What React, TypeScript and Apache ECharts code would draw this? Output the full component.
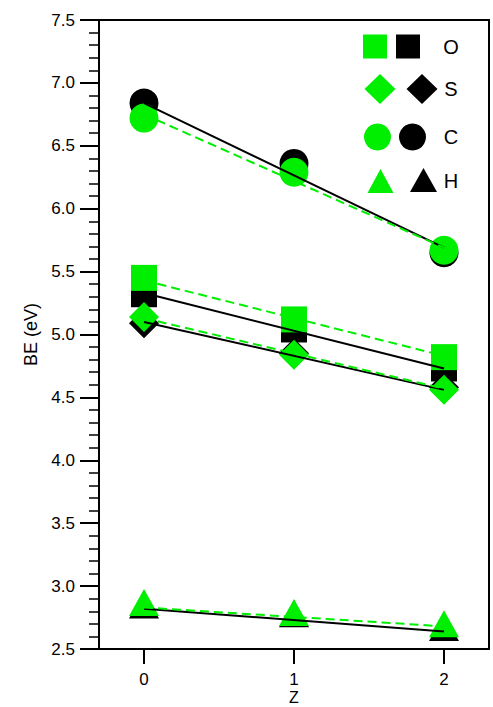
import React, { useEffect, useRef } from "react";
import * as echarts from "echarts";

const xValues = [0, 1, 2];
const xTicks = [0, 1, 2];

// Measured binding energies (eV)
const oGreen = [5.45, 5.12, 4.82];
const oBlack = [5.32, 5.04, 4.73];
const sGreen = [5.14, 4.84, 4.56];
const sBlack = [5.09, 4.85, 4.58];
const cGreen = [6.72, 6.29, 5.67];
const cBlack = [6.84, 6.36, 5.65];
const hGreen = [2.87, 2.79, 2.70];
const hBlack = [2.85, 2.78, 2.67];

// Fit lines: value at Z=0 and Z=2
const fitX = [0, 2];
const oGreenFit = [5.43, 4.83];
const oBlackFit = [5.33, 4.73];
const sGreenFit = [5.13, 4.57];
const sBlackFit = [5.10, 4.56];
const cGreenFit = [6.75, 5.69];
const cBlackFit = [6.84, 5.69];
const hGreenFit = [2.83, 2.68];
const hBlackFit = [2.82, 2.64];

const GREEN = "#00ee00";
const BLACK = "#000000";
const FONT = "Liberation Sans, Arial, sans-serif";

const pts = (ys: number[]) => xValues.map((x, i) => [x, ys[i]]);
const fitPts = (ys: number[]) => fitX.map((x, i) => [x, ys[i]]);

export default function App() {
  const ref = useRef<HTMLDivElement>(null);
  useEffect(() => {
    if (!ref.current) return;
    const chart = echarts.init(ref.current, undefined, { renderer: "svg" });

    const scatter = (name: string, data: number[], color: string, symbol: string, size: any, z: number) => ({
      name,
      type: "scatter",
      data: pts(data),
      symbol,
      symbolSize: size,
      itemStyle: { color, opacity: 1 },
      z,
      silent: true,
    });
    const fit = (name: string, data: number[], color: string, dashed: boolean, z: number) => ({
      name,
      type: "line",
      data: fitPts(data),
      symbol: "none",
      lineStyle: { color, width: 2, type: dashed ? [9, 5] : "solid" },
      z,
      silent: true,
    });

    const legendRows = [
      { label: "O", y: 46.5 },
      { label: "S", y: 89 },
      { label: "C", y: 137 },
      { label: "H", y: 181 },
    ];

    chart.setOption({
      animation: false,
      grid: {
        left: 99,
        right: 4,
        top: 20,
        bottom: 58,
        containLabel: false,
        outerBoundsMode: "none",
        show: true,
        borderColor: "#000",
        borderWidth: 2,
      },
      xAxis: {
        type: "value",
        min: -0.3,
        max: 2.3,
        name: "Z",
        nameLocation: "middle",
        nameMoveOverlap: false,
        nameGap: 40,
        nameTextStyle: { color: "#000", fontSize: 16, lineHeight: 16, fontFamily: FONT },
        axisLine: { show: true, onZero: false, lineStyle: { color: "#000", width: 2 } },
        axisTick: { show: true, inside: false, length: 15, lineStyle: { color: "#000", width: 2 }, customValues: xTicks },
        axisLabel: { color: "#000", fontSize: 17, fontFamily: FONT, margin: 22, customValues: xTicks, formatter: (v: number) => String(v) },
        splitLine: { show: false },
      },
      yAxis: {
        type: "value",
        min: 2.5,
        max: 7.5,
        interval: 0.5,
        name: "BE (eV)",
        nameLocation: "middle",
        nameGap: 58,
        nameTextStyle: { color: "#000", fontSize: 18, fontFamily: FONT },
        axisLine: { show: true, onZero: false, lineStyle: { color: "#000", width: 2 } },
        axisTick: { show: true, inside: false, length: 19, lineStyle: { color: "#000", width: 2 } },
        minorTick: { show: true, splitNumber: 5, length: 10, lineStyle: { color: "#000", width: 1.5 } },
        axisLabel: { color: "#000", fontSize: 17, fontFamily: FONT, margin: 24, formatter: (v: number) => v.toFixed(1) },
        splitLine: { show: false },
      },
      series: [
        scatter("O black", oBlack, BLACK, "rect", 26, 2),
        scatter("S black", sBlack, BLACK, "diamond", 30, 2),
        scatter("C black", cBlack, BLACK, "circle", 29, 2),
        scatter("H black", hBlack, BLACK, "triangle", [30, 27], 2),
        scatter("O green", oGreen, GREEN, "rect", 26, 3),
        scatter("S green", sGreen, GREEN, "diamond", 30, 3),
        scatter("C green", cGreen, GREEN, "circle", 29, 3),
        scatter("H green", hGreen, GREEN, "triangle", [30, 27], 3),
        fit("O black fit", oBlackFit, BLACK, false, 4),
        fit("S black fit", sBlackFit, BLACK, false, 4),
        fit("C black fit", cBlackFit, BLACK, false, 4),
        fit("H black fit", hBlackFit, BLACK, false, 4),
        fit("O green fit", oGreenFit, GREEN, true, 5),
        fit("S green fit", sGreenFit, GREEN, true, 5),
        fit("C green fit", cGreenFit, GREEN, true, 5),
        fit("H green fit", hGreenFit, GREEN, true, 5),
      ],
      graphic: [
        // O row
        { type: "rect", shape: { x: 363, y: legendRows[0].y - 12, width: 24, height: 24 }, style: { fill: GREEN } },
        { type: "rect", shape: { x: 396, y: legendRows[0].y - 12, width: 24, height: 24 }, style: { fill: BLACK } },
        // S row
        {
          type: "polygon",
          shape: { points: [[380, 74], [395.5, 89], [380, 104], [364.5, 89]] },
          style: { fill: GREEN },
        },
        {
          type: "polygon",
          shape: { points: [[422, 74], [437.5, 89], [422, 104], [406.5, 89]] },
          style: { fill: BLACK },
        },
        // C row
        { type: "circle", shape: { cx: 377.5, cy: 137, r: 13.5 }, style: { fill: GREEN } },
        { type: "circle", shape: { cx: 412.5, cy: 137, r: 13.5 }, style: { fill: BLACK } },
        // H row
        {
          type: "polygon",
          shape: { points: [[380.5, 169], [393.5, 193], [367.5, 193]] },
          style: { fill: GREEN },
        },
        {
          type: "polygon",
          shape: { points: [[423.5, 168], [437, 192], [410, 192]] },
          style: { fill: BLACK },
        },
        ...legendRows.map((r) => ({
          type: "text",
          x: 451,
          y: r.y,
          style: {
            text: r.label,
            fill: "#000",
            fontSize: 20,
            fontFamily: FONT,
            align: "center",
            verticalAlign: "middle",
          },
        })),
      ],
    });
    return () => chart.dispose();
  }, []);
  return <div ref={ref} style={{ width: 493, height: 707, position: "absolute", left: 0, top: 0 }} />;
}
